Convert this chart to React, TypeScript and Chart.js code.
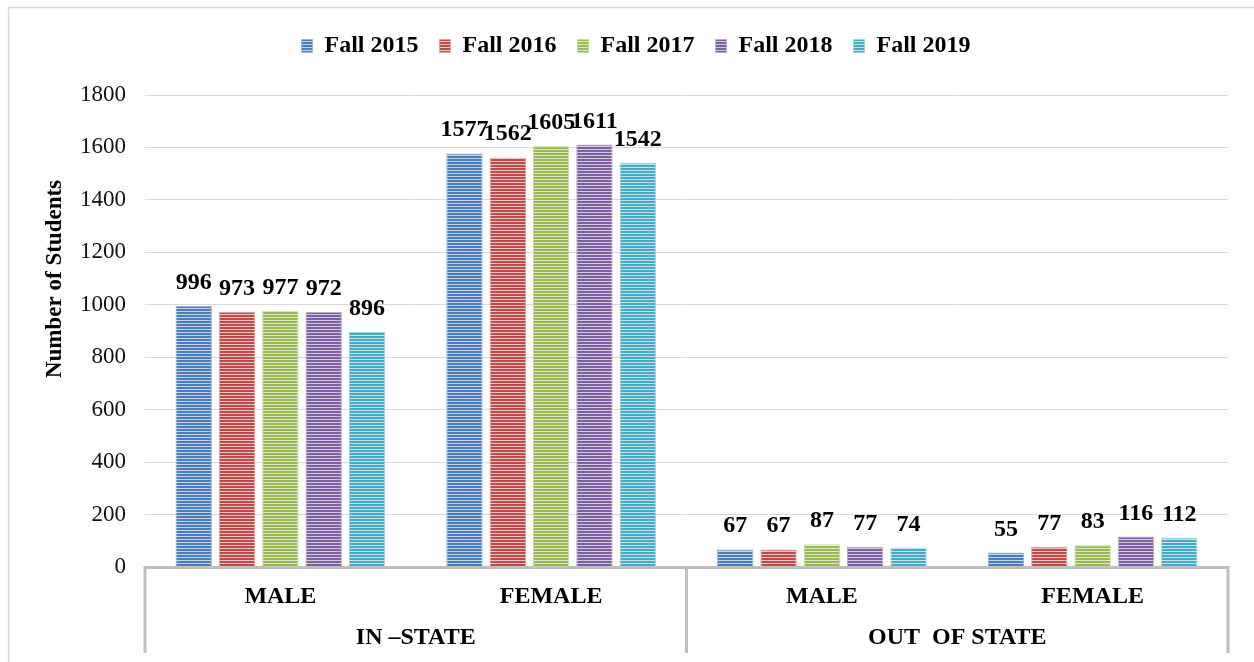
import React, { useEffect, useRef } from 'react';
import { Chart, registerables } from 'chart.js';

Chart.register(...registerables);

const subCategories = ['MALE', 'FEMALE', 'MALE', 'FEMALE'];
const groupLabels = ['IN –STATE', 'OUT  OF STATE'];
const seriesNames = ['Fall 2015', 'Fall 2016', 'Fall 2017', 'Fall 2018', 'Fall 2019'];
const fall2015 = [996, 1577, 67, 55];
const fall2016 = [973, 1562, 67, 77];
const fall2017 = [977, 1605, 87, 83];
const fall2018 = [972, 1611, 77, 116];
const fall2019 = [896, 1542, 74, 112];
const seriesValues = [fall2015, fall2016, fall2017, fall2018, fall2019];
const yMin = 0;
const yMax = 1800;
const yStep = 200;
const yTitle = 'Number of Students';

const baseColors = ['#4a7ebb', '#be4b48', '#98b954', '#7d60a0', '#46aac5'];
const lightColors = ['#c3d3ea', '#ecc4c3', '#dbe8c4', '#d3c8e1', '#c1e4ee'];
const edgeColors = ['#9ab5dc', '#dea4a2', '#c6d9a4', '#b9a9cf', '#9fd3e2'];

const FONT = "'Liberation Serif', 'Times New Roman', serif";

function makeStripe(ctx: CanvasRenderingContext2D, base: string, light: string) {
  const c = document.createElement('canvas');
  c.width = 4;
  c.height = 3;
  const g = c.getContext('2d')!;
  g.fillStyle = base;
  g.fillRect(0, 0, 4, 2);
  g.fillStyle = light;
  g.fillRect(0, 2, 4, 1);
  return ctx.createPattern(c, 'repeat')!;
}

const framePlugin = {
  id: 'frame',
  beforeDraw(chart: any) {
    const ctx = chart.ctx;
    ctx.save();
    ctx.strokeStyle = '#d9d9d9';
    ctx.lineWidth = 1.5;
    ctx.beginPath();
    ctx.moveTo(8.5, chart.height);
    ctx.lineTo(8.5, 7.5);
    ctx.lineTo(chart.width, 7.5);
    ctx.stroke();
    ctx.restore();
  },
};

const legendSpacer = {
  id: 'legendSpacer',
  beforeLayout(chart: any) {
    const lg = chart.legend;
    if (lg && !lg.__patched) {
      const orig = lg.fit.bind(lg);
      lg.fit = () => {
        orig();
        lg.height += 27;
      };
      lg.__patched = true;
    }
  },
  afterLayout(chart: any) {
    const lg = chart.legend;
    if (lg) {
      lg.left += 22;
      lg.right += 22;
    }
  },
};

const valueLabels = {
  id: 'valueLabels',
  afterDatasetsDraw(chart: any) {
    const ctx = chart.ctx;
    ctx.save();
    ctx.font = `bold 24px ${FONT}`;
    ctx.fillStyle = '#000';
    ctx.textAlign = 'center';
    ctx.textBaseline = 'alphabetic';
    chart.data.datasets.forEach((ds: any, i: number) => {
      const meta = chart.getDatasetMeta(i);
      meta.data.forEach((el: any, j: number) => {
        ctx.fillText(String(ds.data[j]), el.x, el.y - 17);
      });
    });
    ctx.restore();
  },
};

const axisDecor = {
  id: 'axisDecor',
  afterDraw(chart: any) {
    const ctx = chart.ctx;
    const area = chart.chartArea;
    const xs = chart.scales.x;
    const mid = (xs.getPixelForValue(1) + xs.getPixelForValue(2)) / 2;
    ctx.save();
    ctx.strokeStyle = '#bfbfbf';
    ctx.lineWidth = 3;
    ctx.beginPath();
    [area.left, mid, area.right].forEach((x: number) => {
      ctx.moveTo(x, area.bottom - 1);
      ctx.lineTo(x, 653);
    });
    ctx.stroke();
    ctx.translate(55, 279);
    ctx.rotate(-Math.PI / 2);
    ctx.font = `bold 23px ${FONT}`;
    ctx.fillStyle = '#000';
    ctx.textAlign = 'center';
    ctx.textBaseline = 'middle';
    ctx.fillText(yTitle, 0, 0);
    ctx.restore();
  },
};

export default function App() {
  const ref = useRef<HTMLCanvasElement>(null);
  useEffect(() => {
    document.body.style.margin = '0';
    const canvas = ref.current!;
    const ctx = canvas.getContext('2d')!;
    const datasets = seriesNames.map((name, i) => ({
      label: name,
      data: seriesValues[i],
      backgroundColor: makeStripe(ctx, baseColors[i], lightColors[i]),
      borderColor: edgeColors[i],
      borderWidth: 1,
      categoryPercentage: 0.8,
      barPercentage: 0.84,
      xAxisID: 'x',
    }));
    const chart = new Chart(ctx, {
      type: 'bar',
      data: { labels: subCategories, datasets },
      options: {
        responsive: false,
        animation: false,
        layout: { padding: { top: 13, right: 26, left: 0, bottom: 0 } },
        plugins: {
          legend: {
            position: 'top',
            labels: {
              font: { family: FONT, size: 24, weight: 'bold' },
              color: '#000',
              boxWidth: 11,
              boxHeight: 13,
              padding: 21,
            },
          },
          tooltip: { enabled: false },
        },
        scales: {
          x: {
            type: 'category',
            position: 'bottom',
            weight: 0,
            grid: { display: false, drawTicks: false },
            border: { display: true, color: '#bfbfbf', width: 3 },
            ticks: {
              font: { family: FONT, size: 24, weight: 'bold' },
              color: '#000',
              padding: 15,
              maxRotation: 0,
            },
            afterFit(scale: any) {
              scale.height = 50;
            },
          },
          x2: {
            type: 'category',
            labels: groupLabels,
            position: 'bottom',
            weight: 1,
            offset: true,
            grid: { display: false, drawTicks: false },
            border: { display: false },
            ticks: {
              font: { family: FONT, size: 24, weight: 'bold' },
              color: '#000',
              padding: 6,
              maxRotation: 0,
            },
            afterFit(scale: any) {
              scale.height = 45;
            },
          },
          y: {
            min: yMin,
            max: yMax,
            ticks: {
              stepSize: yStep,
              font: { family: FONT, size: 23 },
              color: '#111',
              padding: 19,
              callback: (v: any) => String(v),
            },
            grid: { color: '#d9d9d9', lineWidth: 1, drawTicks: false },
            border: { display: false },
            afterFit(scale: any) {
              scale.width = 145;
            },
          },
        },
      } as any,
      plugins: [framePlugin, legendSpacer, valueLabels, axisDecor],
    });
    return () => chart.destroy();
  }, []);
  return <canvas ref={ref} width={1254} height={662} style={{ display: 'block' }} />;
}
